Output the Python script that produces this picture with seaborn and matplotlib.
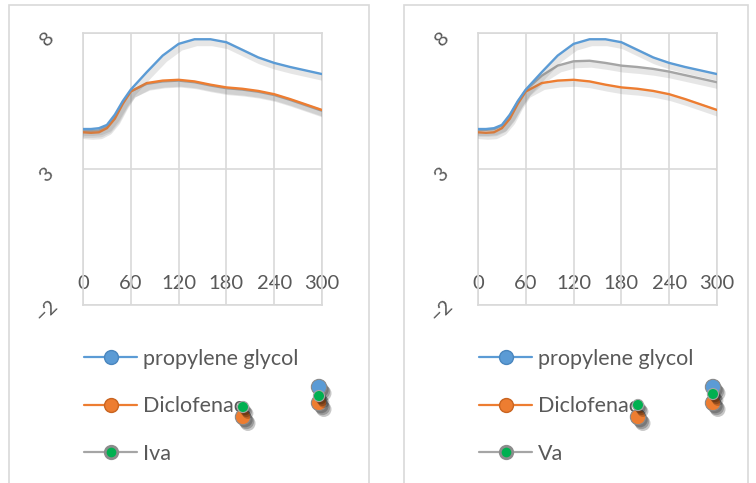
import matplotlib
matplotlib.use("Agg")
import matplotlib.pyplot as plt
import matplotlib.patheffects as pe
from matplotlib.lines import Line2D
from matplotlib.patches import Rectangle
from matplotlib.transforms import ScaledTranslation
import seaborn as sns
import pandas as pd

# ---- data ----
times = [0, 10, 20, 30, 40, 50, 60, 80, 100, 120, 140, 160, 180, 200, 220, 240, 260, 280, 300]
propylene_glycol = [4.47, 4.47, 4.5, 4.62, 5.0, 5.5, 5.92, 6.56, 7.17, 7.6, 7.77, 7.77, 7.66,
                    7.38, 7.1, 6.9, 6.75, 6.62, 6.49]
diclofenac = [4.35, 4.33, 4.35, 4.5, 4.85, 5.4, 5.85, 6.16, 6.25, 6.28, 6.22, 6.1, 6.0,
              5.95, 5.87, 5.75, 5.57, 5.37, 5.17]
iva = [4.4, 4.4, 4.42, 4.56, 4.92, 5.45, 5.86, 6.13, 6.22, 6.25, 6.19, 6.07, 5.97,
       5.92, 5.84, 5.72, 5.54, 5.34, 5.14]
va = [4.44, 4.44, 4.46, 4.6, 4.96, 5.47, 5.9, 6.43, 6.8, 6.96, 6.98, 6.9, 6.8,
      6.75, 6.68, 6.58, 6.45, 6.32, 6.19]

x_ticks = [0, 60, 120, 180, 240, 300]
y_ticks = [-2, 3, 8]

panels = [
    ("Iva", iva),
    ("Va", va),
]

BLUE = "#5B9BD5"
ORANGE = "#ED7D31"
GRAY = "#A5A5A5"
GREEN = "#00B050"
TEXT = "#595959"
GRID = "#D9D9D9"

sns.set_theme(style="white")
plt.rcParams["font.family"] = ["Lato", "DejaVu Sans"]

fig = plt.figure(figsize=(7.56, 4.83), dpi=100)

# panel frames (chart areas)
for (x0, x1) in [(9, 369), (404, 748)]:
    fig.patches.append(Rectangle((x0 / 756, -0.01), (x1 - x0) / 756, (483 - 4.5) / 483 + 0.01,
                                 transform=fig.transFigure, fill=False,
                                 edgecolor=GRID, linewidth=1.2))

axes_lefts = [83, 478]
for (name3, vals3), left in zip(panels, axes_lefts):
    ax = fig.add_axes([left / 756, 1 - 305 / 483, 239 / 756, 272 / 483])
    df = pd.DataFrame({
        "time": times * 3,
        "value": propylene_glycol + diclofenac + vals3,
        "series": ["propylene glycol"] * len(times) + ["Diclofenac"] * len(times) + [name3] * len(times),
    })
    order = ["propylene glycol", "Diclofenac", name3]
    sns.lineplot(data=df, x="time", y="value", hue="series", hue_order=order[::-1],
                 palette={order[0]: BLUE, order[1]: ORANGE, order[2]: GRAY},
                 ax=ax, linewidth=1.7, legend=False, zorder=3)
    for ln in ax.lines:
        ln.set_solid_joinstyle("round")
        ln.set_path_effects([pe.SimpleLineShadow(offset=(1.5, -2.5), shadow_color="#777777",
                                                 alpha=0.18, linewidth=5),
                             pe.Normal()])
    ax.set_xlim(0, 300)
    ax.set_ylim(-2, 8)
    ax.set_xticks(x_ticks)
    ax.set_yticks(y_ticks)
    ax.grid(True, color=GRID, linewidth=1.2)
    for s in ax.spines.values():
        s.set_color(GRID)
        s.set_linewidth(1.2)
    ax.set_xlabel("")
    ax.set_ylabel("")
    ax.tick_params(axis="x", labelbottom=False, length=0)
    ax.tick_params(axis="y", length=0, pad=26, labelsize=14.5, labelcolor=TEXT)
    shift = ScaledTranslation(0, -6 / 100, fig.dpi_scale_trans)
    for lab in ax.get_yticklabels():
        lab.set_rotation(45)
        lab.set_va("center")
        lab.set_ha("center")
        lab.set_transform(lab.get_transform() + shift)
    sec = ax.secondary_xaxis(0.112)
    sec.set_xticks(x_ticks)
    sec.tick_params(length=0, pad=0, labelsize=14.5, labelcolor=TEXT)
    sec.spines["bottom"].set_visible(False)

    handles = [
        Line2D([], [], color=BLUE, lw=1.6, marker="o", ms=10, mfc=BLUE, mec="#4A86BE"),
        Line2D([], [], color=ORANGE, lw=1.6, marker="o", ms=10, mfc=ORANGE, mec="#C96420"),
        Line2D([], [], color=GRAY, lw=1.6, marker="o", ms=9, mfc=GREEN, mec="#8C8C8C", mew=2),
    ]
    ax.legend(handles, order, loc="upper left", bbox_to_anchor=(0.005, -0.16),
              frameon=False, fontsize=15.5, labelcolor=TEXT, handlelength=2.45,
              handletextpad=0.3, labelspacing=1.28, borderpad=0, borderaxespad=0)

# stray stacked marker blobs visible in the reference legends (decoration)
blobs = [
    (243, 417, ORANGE), (243, 407, GREEN),
    (319, 387, BLUE), (319, 403, ORANGE), (319, 396, GREEN),
    (638, 417, ORANGE), (638, 405, GREEN),
    (713, 387, BLUE), (713, 403, ORANGE), (713, 394, GREEN),
]
shadow_fx = [pe.SimplePatchShadow(offset=(o, -1.3 * o), shadow_rgbFace="black", alpha=0.22)
             for o in (3.5, 2.5, 1.5)]
for bx, by, c in blobs:
    big = c != GREEN
    ln = Line2D([bx / 756], [1 - by / 483], transform=fig.transFigure, marker="o",
                ms=11 if big else 8, mfc=c, mec="#8a8a8a" if big else GRAY,
                mew=0.8, linestyle="none")
    ln.set_path_effects(shadow_fx + [pe.Normal()])
    fig.lines.append(ln)

fig.savefig("out.png", dpi=100, facecolor="white")
